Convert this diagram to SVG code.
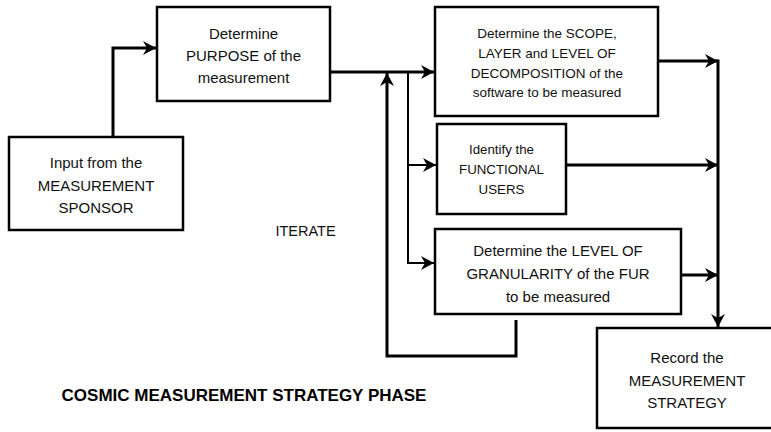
<svg xmlns="http://www.w3.org/2000/svg" width="771" height="432" viewBox="0 0 771 432">
<defs>
<style>
.box{fill:#fff;stroke:#000;stroke-width:2.5}
.t{font-family:"Liberation Sans",Arial,sans-serif;font-size:15px;fill:#111;text-anchor:middle;dominant-baseline:central}
.s{font-size:13.5px}
.f{font-size:13.3px}
.c{fill:none;stroke:#000;stroke-width:3}
.thin{fill:none;stroke:#000;stroke-width:2}
.title{font-family:"Liberation Sans",Arial,sans-serif;font-weight:bold;font-size:17px;fill:#000;text-anchor:middle;dominant-baseline:central}
</style>
<marker id="ah" markerUnits="userSpaceOnUse" markerWidth="14" markerHeight="14" refX="13" refY="7" orient="auto" viewBox="0 0 14 14">
<path d="M0,0 L13,7 L0,14 L4,7 z" fill="#000"/>
</marker>
</defs>
<rect width="771" height="432" fill="#fff"/>
<g id="connectors">
<path class="c" d="M113,137 V48 H156" marker-end="url(#ah)"/>
<path class="c" d="M330,72 H434" marker-end="url(#ah)"/>
<path class="c" d="M516,320 V356 H387 V73" marker-end="url(#ah)"/>
<path class="thin" d="M408,72 V264"/>
<path class="thin" d="M407,165 H436" marker-end="url(#ah)"/>
<path class="thin" d="M407,263 H434" marker-end="url(#ah)"/>
<path class="c" d="M658,61 H718" marker-end="url(#ah)"/>
<path class="c" d="M566,165 H718" marker-end="url(#ah)"/>
<path class="c" d="M681,275 H718" marker-end="url(#ah)"/>
<path class="c" d="M718,59.5 V327" marker-end="url(#ah)"/>
</g>
<g id="input">
<rect class="box" x="9" y="137" width="174" height="93"/>
<text class="t" x="96" y="162">Input from the</text>
<text class="t" x="96" y="185">MEASUREMENT</text>
<text class="t" x="96" y="207">SPONSOR</text>
</g>
<g id="purpose">
<rect class="box" x="157" y="7" width="173" height="94"/>
<text class="t" x="243.5" y="33">Determine</text>
<text class="t" x="243.5" y="55">PURPOSE of the</text>
<text class="t" x="243.5" y="77">measurement</text>
</g>
<g id="scope">
<rect class="box" x="435" y="7" width="223" height="109"/>
<text class="t s" x="547" y="33">Determine the SCOPE,</text>
<text class="t s" x="547" y="53">LAYER and LEVEL OF</text>
<text class="t s" x="547" y="73">DECOMPOSITION of the</text>
<text class="t s" x="547" y="92">software to be measured</text>
</g>
<g id="functional">
<rect class="box" x="437" y="124" width="129" height="90"/>
<text class="t f" x="501.5" y="149">Identify the</text>
<text class="t f" x="501.5" y="169">FUNCTIONAL</text>
<text class="t f" x="501.5" y="189">USERS</text>
</g>
<g id="granularity">
<rect class="box" x="435" y="229" width="246" height="85"/>
<text class="t" x="558" y="250">Determine the LEVEL OF</text>
<text class="t" x="558" y="273">GRANULARITY of the FUR</text>
<text class="t" x="558" y="296">to be measured</text>
</g>
<g id="record">
<rect class="box" x="597" y="328" width="182" height="100"/>
<text class="t" x="687" y="357">Record the</text>
<text class="t" x="687" y="380">MEASUREMENT</text>
<text class="t" x="687" y="402">STRATEGY</text>
</g>
<g id="labels">
<text class="t" x="305.5" y="231" style="font-size:14.5px">ITERATE</text>
<text class="title" x="244" y="395">COSMIC MEASUREMENT STRATEGY PHASE</text>
</g>
</svg>
